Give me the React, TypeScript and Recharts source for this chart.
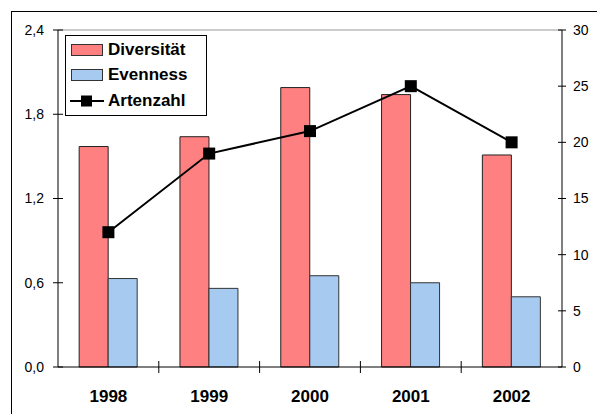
import { ComposedChart, Bar, Line, XAxis, YAxis, ReferenceLine } from 'recharts'

const years = ['1998', '1999', '2000', '2001', '2002']
const diversitaet = [1.57, 1.64, 1.99, 1.94, 1.51]
const evenness = [0.63, 0.56, 0.65, 0.6, 0.5]
const artenzahl = [12, 19, 21, 25, 20]
const leftTicks = [0, 0.6, 1.2, 1.8, 2.4]
const rightTicks = [0, 5, 10, 15, 20, 25, 30]

const W = 597
const H = 414
const LEFT_W = 58
const RIGHT_W = 35
const BAND = (W - LEFT_W - RIGHT_W) / years.length
const FONT = '"Liberation Sans", Arial, sans-serif'
const RED = '#FF8080'
const BLUE = '#A6CAF0'

const data = years.map((y, i) => ({
  year: y,
  div: diversitaet[i],
  even: evenness[i],
  arten: artenzahl[i],
}))

const comma = (v: number) => v.toFixed(1).replace('.', ',')

function LeftTick({ x, y, payload }: any) {
  const ax = x + 14
  return (
    <g>
      <line x1={ax - 5} x2={ax + 5} y1={y} y2={y} stroke="#000" />
      <text x={x} y={y} dy="0.35em" textAnchor="end" fontSize={14} fontFamily={FONT} fill="#000">
        {comma(payload.value)}
      </text>
    </g>
  )
}

function RightTick({ x, y, payload }: any) {
  const ax = x - 11
  return (
    <g>
      <line x1={ax - 4} x2={ax + 4} y1={y} y2={y} stroke="#000" />
      <text x={x} y={y} dy="0.35em" textAnchor="start" fontSize={14} fontFamily={FONT} fill="#000">
        {payload.value}
      </text>
    </g>
  )
}

function YearTick({ x, y, payload, index }: any) {
  const ay = y - 22
  return (
    <g>
      {index > 0 && <line x1={x - BAND / 2} x2={x - BAND / 2} y1={ay - 6} y2={ay + 6} stroke="#000" />}
      <text x={x} y={y} dy="0.75em" textAnchor="middle" fontSize={17} fontWeight="bold" fontFamily={FONT} fill="#000">
        {payload.value}
      </text>
    </g>
  )
}

function SquareDot({ cx, cy, index }: any) {
  return <rect key={'d' + index} x={cx - 6} y={cy - 6} width={12} height={12} fill="#000" />
}

function LegendBox() {
  const row = (swatch: any, label: string) => (
    <div style={{ display: 'flex', alignItems: 'center', height: 25.5 }}>
      <svg width={34} height={14} style={{ marginRight: 4 }}>{swatch}</svg>
      <span style={{ fontFamily: FONT, fontWeight: 'bold', fontSize: 17, color: '#000' }}>{label}</span>
    </div>
  )
  return (
    <div style={{
      position: 'absolute', left: 65, top: 35, width: 136, height: 78, border: '1px solid #000',
      background: '#fff', boxSizing: 'content-box', paddingLeft: 4, paddingTop: 1,
    }}>
      {row(<rect x={1.5} y={1.5} width={31} height={11} fill={RED} stroke="#333" />, 'Diversität')}
      {row(<rect x={1.5} y={1.5} width={31} height={11} fill={BLUE} stroke="#333" />, 'Evenness')}
      {row(
        <g>
          <line x1={0} x2={34} y1={7} y2={7} stroke="#000" strokeWidth={2} />
          <rect x={11} y={1.5} width={11} height={11} fill="#000" />
        </g>,
        'Artenzahl'
      )}
    </div>
  )
}

export default function App() {
  return (
    <div style={{ position: 'fixed', left: 0, top: 0, width: W, height: H, overflow: 'hidden', background: '#fff' }}>
      <div style={{
        position: 'absolute', left: 11, top: 11, width: 700, height: 500,
        borderLeft: '1.5px solid #000', borderTop: '1.5px solid #000',
      }} />
      <ComposedChart width={W} height={H} data={data} margin={{ top: 30, right: 0, left: 0, bottom: 0 }}
        barCategoryGap="21%" barGap={0}>
        <XAxis dataKey="year" height={47} axisLine={{ stroke: '#000' }} tickLine={false} tickSize={0}
          tickMargin={22} tick={<YearTick />} interval={0} />
        <YAxis yAxisId="left" width={LEFT_W} domain={[0, 2.4]} ticks={leftTicks} interval={0}
          axisLine={{ stroke: '#000' }} tickLine={false} tickSize={0} tickMargin={14} tick={<LeftTick />} />
        <YAxis yAxisId="right" orientation="right" width={RIGHT_W} domain={[0, 30]} ticks={rightTicks} interval={0}
          axisLine={{ stroke: '#000' }} tickLine={false} tickSize={0} tickMargin={11} tick={<RightTick />} />
        <ReferenceLine yAxisId="left" y={2.4} stroke="#999" />
        <Bar yAxisId="left" dataKey="div" name="Diversität" fill={RED} stroke="#222" strokeWidth={1} isAnimationActive={false} />
        <Bar yAxisId="left" dataKey="even" name="Evenness" fill={BLUE} stroke="#333" strokeWidth={1} isAnimationActive={false} />
        <Line yAxisId="right" dataKey="arten" name="Artenzahl" stroke="#000" strokeWidth={2} dot={<SquareDot />}
          activeDot={false} isAnimationActive={false} />
      </ComposedChart>
      <LegendBox />
    </div>
  )
}
